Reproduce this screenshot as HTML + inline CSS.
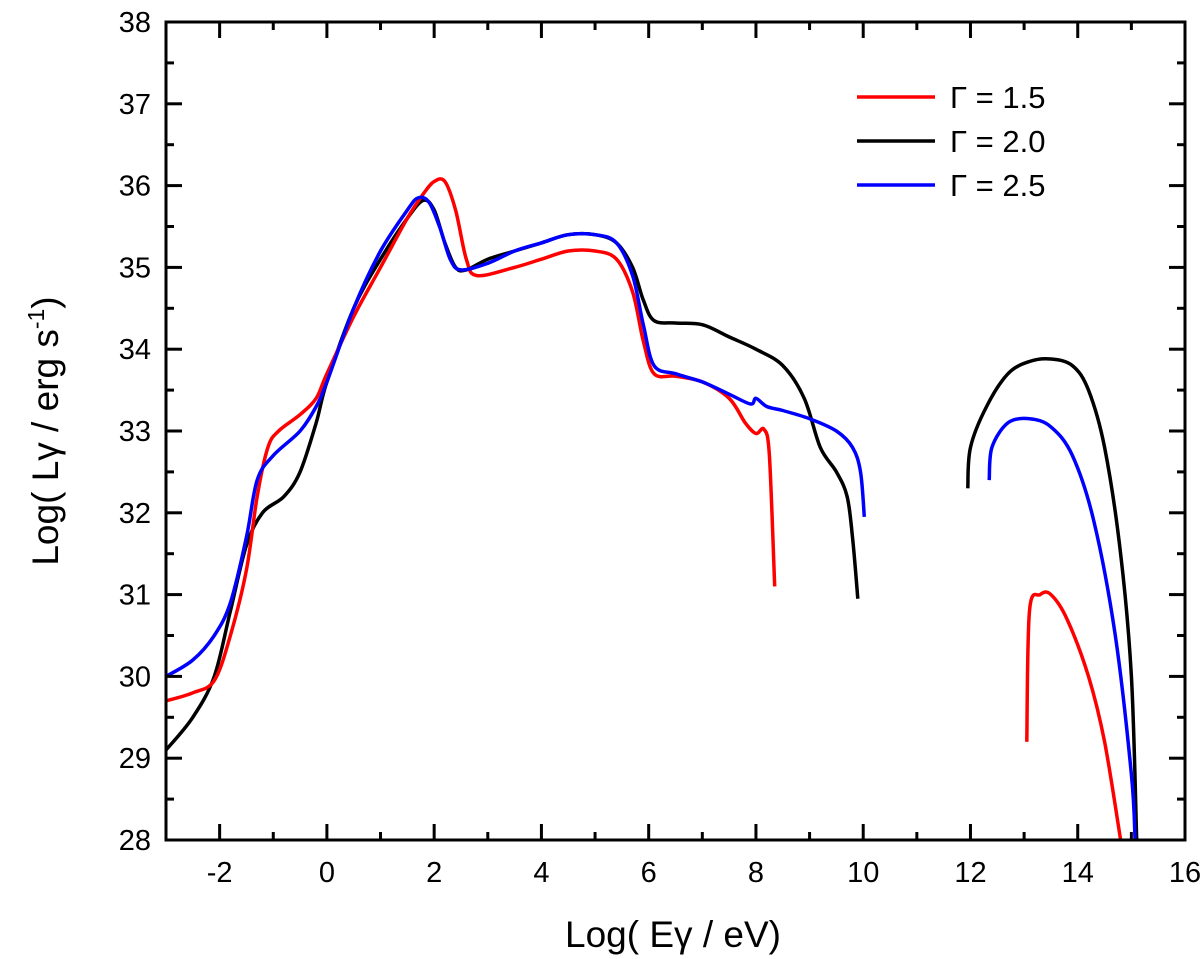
<!DOCTYPE html>
<html><head><meta charset="utf-8"><style>
body{margin:0;background:#fff;}
svg{display:block;font-family:"Liberation Sans",Arial,sans-serif;}
</style></head><body>
<svg id="chart" width="1200" height="959" viewBox="0 0 1200 959" xmlns="http://www.w3.org/2000/svg">
<g id="plot"></g>
</svg>
<script>
const xTicks=[-2,0,2,4,6,8,10,12,14,16];
const yTicks=[28,29,30,31,32,33,34,35,36,37,38];
const seriesNames=["Γ = 1.5","Γ = 2.0","Γ = 2.5"];
const seriesColors=["#ff0000","#000000","#0000ff"];
const red1=[[-3,29.7],[-2.5,29.8],[-2.1,29.95],[-1.8,30.5],[-1.5,31.3],[-1.3,32.2],[-1.1,32.8],[-0.9,33.0],[-0.5,33.2],[-0.2,33.4],[0,33.7],[0.5,34.4],[1,35.0],[1.5,35.6],[1.8,35.9],[2.0,36.05],[2.2,36.05],[2.4,35.7],[2.6,35.1],[2.8,34.9],[3.5,35.0],[4,35.1],[4.5,35.2],[5,35.2],[5.4,35.1],[5.7,34.7],[5.9,34.1],[6.1,33.7],[6.5,33.67],[7,33.6],[7.5,33.4],[7.8,33.1],[8,32.97],[8.15,33.02],[8.25,32.7],[8.35,31.1]];
const red2=[[13.05,29.2],[13.1,30.8],[13.3,31.0],[13.5,31.0],[13.8,30.7],[14.2,30.0],[14.5,29.2],[14.8,28.0]];
const black1=[[-3,29.1],[-2.5,29.5],[-2.1,30.0],[-1.8,30.8],[-1.5,31.6],[-1.2,32.0],[-0.8,32.2],[-0.5,32.5],[-0.2,33.1],[0,33.6],[0.5,34.5],[1,35.1],[1.5,35.6],[1.8,35.82],[2.0,35.7],[2.2,35.3],[2.4,35.0],[2.6,34.97],[3,35.1],[3.5,35.2],[4,35.3],[4.5,35.4],[5,35.4],[5.4,35.3],[5.7,35.0],[5.9,34.6],[6.1,34.35],[6.5,34.32],[7,34.3],[7.5,34.15],[8,34.0],[8.5,33.8],[8.9,33.4],[9.2,32.8],[9.5,32.5],[9.7,32.2],[9.8,31.7],[9.9,30.95]];
const black2=[[11.95,32.3],[12.0,32.8],[12.3,33.3],[12.7,33.7],[13.1,33.85],[13.5,33.88],[13.9,33.8],[14.2,33.5],[14.5,32.8],[14.8,31.5],[15.0,30.0],[15.1,28.0]];
const blue1=[[-3,30.0],[-2.5,30.2],[-2.1,30.5],[-1.8,30.9],[-1.5,31.7],[-1.3,32.4],[-1.0,32.7],[-0.5,33.0],[-0.2,33.3],[0,33.6],[0.5,34.5],[1,35.2],[1.5,35.7],[1.7,35.85],[1.9,35.8],[2.1,35.5],[2.3,35.1],[2.5,34.97],[3,35.05],[3.5,35.2],[4,35.3],[4.5,35.4],[5,35.4],[5.4,35.3],[5.7,34.9],[5.9,34.3],[6.1,33.8],[6.5,33.7],[7,33.6],[7.5,33.45],[7.9,33.33],[8.0,33.4],[8.2,33.3],[8.5,33.25],[9,33.15],[9.5,33.0],[9.8,32.8],[9.95,32.5],[10.02,31.95]];
const blue2=[[12.35,32.4],[12.4,32.8],[12.7,33.1],[13.1,33.15],[13.5,33.05],[13.9,32.7],[14.3,31.9],[14.7,30.5],[15.0,28.8],[15.07,28.0]];

const L=166,R=1185,T=22,B=840,xmin=-3,xmax=16,ymin=28,ymax=38;
const sx=v=>L+(v-xmin)/(xmax-xmin)*(R-L);
const sy=v=>B-(v-ymin)/(ymax-ymin)*(B-T);
const NS="http://www.w3.org/2000/svg";
const g=document.getElementById('plot');
function mk(t,a,p){const e=document.createElementNS(NS,t);for(const k in a)e.setAttribute(k,a[k]);(p||g).appendChild(e);return e;}
function smooth(seg){
  const P=seg.map(p=>[sx(p[0]),sy(p[1])]);
  let d='M'+P[0][0].toFixed(1)+' '+P[0][1].toFixed(1);
  for(let i=0;i<P.length-1;i++){
    const p0=P[i-1]||P[i],p1=P[i],p2=P[i+1],p3=P[i+2]||P[i+1];
    const c1=[p1[0]+(p2[0]-p0[0])/6,p1[1]+(p2[1]-p0[1])/6];
    const c2=[p2[0]-(p3[0]-p1[0])/6,p2[1]-(p3[1]-p1[1])/6];
    d+=' C'+c1.map(v=>v.toFixed(1)).join(' ')+' '+c2.map(v=>v.toFixed(1)).join(' ')+' '+p2.map(v=>v.toFixed(1)).join(' ');
  }
  return d;
}

const defs=mk('defs',{});const cp=mk('clipPath',{id:'cp'},defs);mk('rect',{x:L,y:T,width:R-L,height:B-T},cp);

const groups=[[red1,red2],[black1,black2],[blue1,blue2]];
[1,0,2].forEach(i=>{groups[i].forEach((seg,j)=>{
  const e=mk('path',{d:smooth(seg),fill:'none',stroke:seriesColors[i],'stroke-width':3.5,'stroke-linejoin':'round','clip-path':'url(#cp)'});
  
  
});});

const fr=mk('rect',{x:L,y:T,width:R-L,height:B-T,fill:'none',stroke:'#000','stroke-width':3});



for(let v=-3;v<=16;v++){
  const x=sx(v);const len=(v%2===0)?16:8;
  mk('line',{x1:x,y1:B,x2:x,y2:B-len,stroke:'#000','stroke-width':3});
  mk('line',{x1:x,y1:T,x2:x,y2:T+len,stroke:'#000','stroke-width':3});
}
xTicks.forEach(v=>{
  const t=mk('text',{x:sx(v),y:B+42,'font-size':29,'text-anchor':'middle'});t.textContent=v;
  
  
});
for(let v=28;v<=38;v+=0.5){
  const y=sy(v);const len=Number.isInteger(v)?16:8;
  mk('line',{x1:L,y1:y,x2:L+len,y2:y,stroke:'#000','stroke-width':3});
  mk('line',{x1:R,y1:y,x2:R-len,y2:y,stroke:'#000','stroke-width':3});
}
yTicks.forEach(v=>{
  const t=mk('text',{x:L-15,y:sy(v)+10,'font-size':29,'text-anchor':'end'});t.textContent=v;
  
  
});

const xt=mk('text',{x:673,y:947,'font-size':37,'text-anchor':'middle'});
xt.textContent='Log( Eγ / eV)';


const yt=mk('text',{transform:'translate(58,431) rotate(-90)','font-size':37,'text-anchor':'middle'});
yt.innerHTML='Log( Lγ / erg s<tspan dy="-14" font-size="23">-1</tspan><tspan dy="14">)</tspan>';



seriesNames.forEach((n,i)=>{
  const y=97+i*44;
  const ln=mk('line',{x1:857,y1:y,x2:935,y2:y,stroke:seriesColors[i],'stroke-width':3.5});
  
  
  const t=mk('text',{x:950,y:y+11,'font-size':31});t.textContent=n;
  
  
});
</script>
</body></html>
